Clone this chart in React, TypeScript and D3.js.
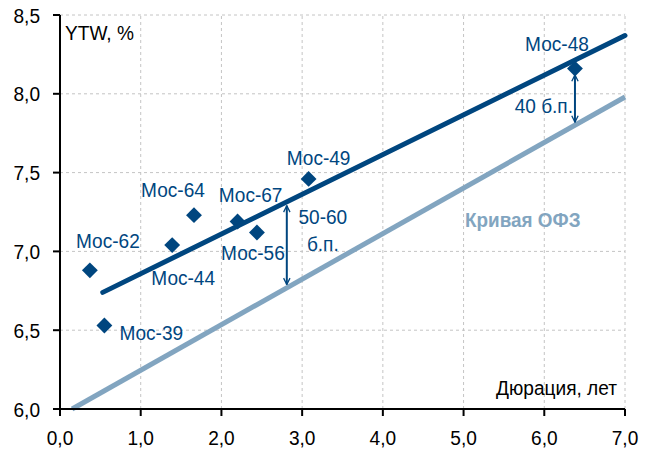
import React from 'react';
import * as d3 from 'd3';

// bonds: duration (years) vs YTW (%)
const bondNames = ['Мос-62', 'Мос-39', 'Мос-44', 'Мос-64', 'Мос-67', 'Мос-56', 'Мос-49', 'Мос-48'];
const bondDuration = [0.37, 0.55, 1.39, 1.66, 2.2, 2.44, 3.08, 6.38];
const bondYtw = [6.88, 6.53, 7.04, 7.23, 7.19, 7.12, 7.46, 8.16];

// fitted Moscow curve and OFZ curve (end points)
const mosCurveX = [0.53, 7.0];
const mosCurveY = [6.74, 8.37];
const ofzCurveX = [0.15, 7.0];
const ofzCurveY = [6.0, 7.98];

// spread arrows
const spreadX = [2.81, 6.38];
const spreadTop = [7.29, 8.12];
const spreadBottom = [6.79, 7.82];

const xTicks = [0, 1, 2, 3, 4, 5, 6, 7];
const yTicks = [6.0, 6.5, 7.0, 7.5, 8.0, 8.5];

// label offsets from the marker (px), text anchor
const labelLayout: [number, number, string][] = [
  [18, -22, 'middle'],
  [15, 15, 'start'],
  [11, 40, 'middle'],
  [-21, -18, 'middle'],
  [13, -19, 'middle'],
  [-4, 28, 'middle'],
  [10, -14, 'middle'],
  [-18, -18, 'middle'],
];

const W = 651;
const H = 450;
const margin = { top: 15, right: 26, bottom: 41, left: 60 };
const dark = '#00467f';
const light = '#82a5c0';
const font = '"Liberation Sans", Arial, sans-serif';

// slightly condensed text, like the original
const Label: React.FC<{
  x: number;
  y: number;
  size: number;
  fill: string;
  anchor?: string;
  bold?: boolean;
  sx?: number;
  children: React.ReactNode;
}> = ({ x, y, size, fill, anchor = 'start', bold = false, sx = 0.91, children }) => (
  <text
    transform={`translate(${x},${y}) scale(${sx},1)`}
    textAnchor={anchor}
    fontSize={size}
    fontWeight={bold ? 'bold' : 'normal'}
    fill={fill}
  >
    {children}
  </text>
);

const App: React.FC = () => {
  const x = d3.scaleLinear().domain([0, 7]).range([margin.left, W - margin.right]);
  const y = d3.scaleLinear().domain([6, 8.5]).range([H - margin.bottom, margin.top]);
  const line = d3
    .line<[number, number]>()
    .x((d) => x(d[0]))
    .y((d) => y(d[1]));
  const mos = mosCurveX.map((v, i) => [v, mosCurveY[i]] as [number, number]);
  const ofz = ofzCurveX.map((v, i) => [v, ofzCurveY[i]] as [number, number]);
  const diamond = d3.symbol().type(d3.symbolDiamond2).size(160)() as string;
  const fmt = (t: number) => d3.format('.1f')(t).replace('.', ',');

  return (
    <svg width={W} height={H} style={{ position: 'absolute', left: 0, top: 0 }} fontFamily={font}>
      <defs>
        <marker id="ah" viewBox="0 0 10 10" refX="9" refY="5" markerWidth="8" markerHeight="8" orient="auto-start-reverse" markerUnits="userSpaceOnUse">
          <path d="M1,1 L9,5 L1,9" fill="none" stroke={dark} strokeWidth={1.6} />
        </marker>
      </defs>
      {/* grid */}
      {xTicks.slice(1).map((t) => (
        <line key={'gx' + t} x1={x(t)} x2={x(t)} y1={y(6)} y2={y(8.5)} stroke="#c4c4c4" strokeDasharray="3,3" />
      ))}
      {yTicks.slice(1).map((t) => (
        <line key={'gy' + t} x1={x(0)} x2={x(7)} y1={y(t)} y2={y(t)} stroke="#c4c4c4" strokeDasharray="3,3" />
      ))}
      {/* curves */}
      <path d={line(ofz) || ''} stroke={light} strokeWidth={5} fill="none" />
      {bondNames.map((n, i) => (
        <path key={n} d={diamond} transform={`translate(${x(bondDuration[i])},${y(bondYtw[i])})`} fill={dark} />
      ))}
      <path d={line(mos) || ''} stroke={dark} strokeWidth={5} fill="none" strokeLinecap="round" />
      {/* spread arrows */}
      {spreadX.map((v, i) => (
        <line key={'sp' + i} x1={x(v)} x2={x(v)} y1={y(spreadTop[i])} y2={y(spreadBottom[i])} stroke={dark} strokeWidth={2} markerStart="url(#ah)" markerEnd="url(#ah)" />
      ))}
      {/* axes */}
      <line x1={x(0)} x2={x(0)} y1={y(6)} y2={y(8.5)} stroke="#000" strokeWidth={2} />
      <line x1={x(0)} x2={x(7)} y1={y(6)} y2={y(6)} stroke="#000" strokeWidth={2} />
      {xTicks.map((t) => (
        <g key={'xt' + t}>
          <line x1={x(t)} x2={x(t)} y1={y(6)} y2={y(6) + 7} stroke="#000" strokeWidth={2} />
          <Label x={x(t)} y={y(6) + 36} anchor="middle" size={21} fill="#000">
            {fmt(t)}
          </Label>
        </g>
      ))}
      {yTicks.map((t) => (
        <g key={'yt' + t}>
          <line x1={x(0) - 7} x2={x(0)} y1={y(t)} y2={y(t)} stroke="#000" strokeWidth={2} />
          <Label x={x(0) - 20} y={y(t) + 7.5} anchor="end" size={21} fill="#000">
            {fmt(t)}
          </Label>
        </g>
      ))}
      <Label x={x(0) + 5} y={40} size={21} fill="#000">YTW, %</Label>
      <Label x={x(7) - 8} y={395} anchor="end" size={21} fill="#000">Дюрация, лет</Label>
      {/* bond labels */}
      {bondNames.map((n, i) => (
        <Label
          key={'l' + n}
          x={x(bondDuration[i]) + labelLayout[i][0]}
          y={y(bondYtw[i]) + labelLayout[i][1]}
          anchor={labelLayout[i][2]}
          size={20.5}
          sx={0.93}
          fill={dark}
        >
          {n}
        </Label>
      ))}
      {/* annotations */}
      <Label x={x(spreadX[0]) + 36} y={224} anchor="middle" size={20.5} sx={0.93} fill={dark}>50-60</Label>
      <Label x={x(spreadX[0]) + 36} y={251} anchor="middle" size={20.5} sx={0.93} fill={dark}>б.п.</Label>
      <Label x={x(spreadX[1]) - 2} y={113} anchor="end" size={20.5} sx={0.93} fill={dark}>40 б.п.</Label>
      <Label x={465} y={227} size={21} sx={0.9} bold fill={light}>Кривая ОФЗ</Label>
    </svg>
  );
};

export default App;
